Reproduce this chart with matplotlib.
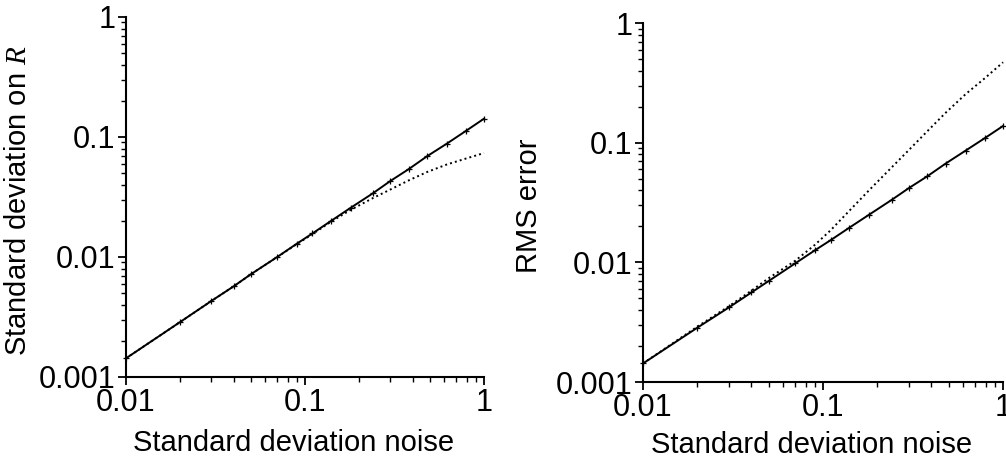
import matplotlib
matplotlib.use("Agg")
import matplotlib.pyplot as plt
from matplotlib.ticker import FixedLocator, FixedFormatter, LogLocator, NullFormatter

plt.rcParams['font.family'] = ['Liberation Sans', 'DejaVu Sans']
plt.rcParams['mathtext.fontset'] = 'custom'
plt.rcParams['mathtext.it'] = 'Liberation Serif:italic'
plt.rcParams['mathtext.rm'] = 'Liberation Sans'

# Data
noise = [0.01, 0.02, 0.03, 0.04, 0.05, 0.07, 0.09, 0.11, 0.14, 0.18,
         0.24, 0.30, 0.38, 0.48, 0.62, 0.79, 1.0]

left_solid = [0.00143, 0.00286, 0.0043, 0.0057, 0.0072, 0.0100, 0.0129, 0.0157,
              0.0200, 0.0257, 0.0340, 0.0430, 0.0540, 0.0690, 0.0880, 0.112, 0.142]
left_dotted = [0.00143, 0.00286, 0.0043, 0.0057, 0.0072, 0.0100, 0.0128, 0.0155,
               0.0197, 0.0247, 0.0310, 0.0365, 0.0435, 0.0510, 0.0590, 0.0660, 0.0735]

right_solid = [0.00143, 0.00284, 0.0042, 0.0056, 0.0070, 0.0098, 0.0126, 0.0153,
               0.0195, 0.0250, 0.0332, 0.0418, 0.0525, 0.0670, 0.0860, 0.109, 0.138]
right_dotted = [0.00143, 0.0029, 0.0043, 0.0058, 0.0074, 0.0103, 0.0140, 0.0185,
                0.0270, 0.0400, 0.0620, 0.0870, 0.125, 0.178, 0.255, 0.345, 0.470]

xticks = [0.01, 0.1, 1]
xtick_labels = ["0.01", "0.1", "1"]
yticks = [0.001, 0.01, 0.1, 1]
ytick_labels = ["0.001", "0.01", "0.1", "1"]

xlabel = "Standard deviation noise"
ylabels = ["Standard deviation on $R$", "RMS error"]

fig = plt.figure(figsize=(10.06, 4.58), dpi=100)
axL = fig.add_axes([0.1252, 0.1769, 0.3559, 0.7860])
axR = fig.add_axes([0.6392, 0.1659, 0.3579, 0.7838])

for ax, solid, dotted, ylab in [(axL, left_solid, left_dotted, ylabels[0]),
                                (axR, right_solid, right_dotted, ylabels[1])]:
    ax.plot(noise, dotted, color='black', lw=1.4, linestyle=(0, (1, 1.6)),
            clip_on=False)
    ax.plot(noise, solid, color='black', lw=1.4, marker='+', ms=4, mew=0.9,
            clip_on=False)
    ax.set_xscale('log')
    ax.set_yscale('log')
    ax.set_xlim(0.01, 1)
    ax.set_ylim(0.001, 1)
    ax.spines['top'].set_visible(False)
    ax.spines['right'].set_visible(False)
    ax.spines['left'].set_linewidth(1.5)
    ax.spines['bottom'].set_linewidth(1.5)
    ax.xaxis.set_major_locator(FixedLocator(xticks))
    ax.xaxis.set_major_formatter(FixedFormatter(xtick_labels))
    ax.yaxis.set_major_locator(FixedLocator(yticks))
    ax.yaxis.set_major_formatter(FixedFormatter(ytick_labels))
    ax.xaxis.set_minor_locator(LogLocator(base=10, subs=range(2, 10)))
    ax.yaxis.set_minor_locator(LogLocator(base=10, subs=range(2, 10)))
    ax.xaxis.set_minor_formatter(NullFormatter())
    ax.yaxis.set_minor_formatter(NullFormatter())
    ax.tick_params(which='major', direction='out', length=6, width=1.3,
                   labelsize=22, pad=1.5)
    ax.tick_params(which='minor', direction='out', length=3.5, width=1.0)
    ax.tick_params(axis='x', which='major', pad=2)
    ax.set_xlabel(xlabel, fontsize=21)
    ax.set_ylabel(ylab, fontsize=21)

axL.xaxis.set_label_coords(0.469, -0.145)
axR.xaxis.set_label_coords(0.469, -0.137)
axL.yaxis.set_label_coords(-0.263, 0.49)
axR.yaxis.set_label_coords(-0.278, 0.49)

fig.savefig("out.png", dpi=100)
